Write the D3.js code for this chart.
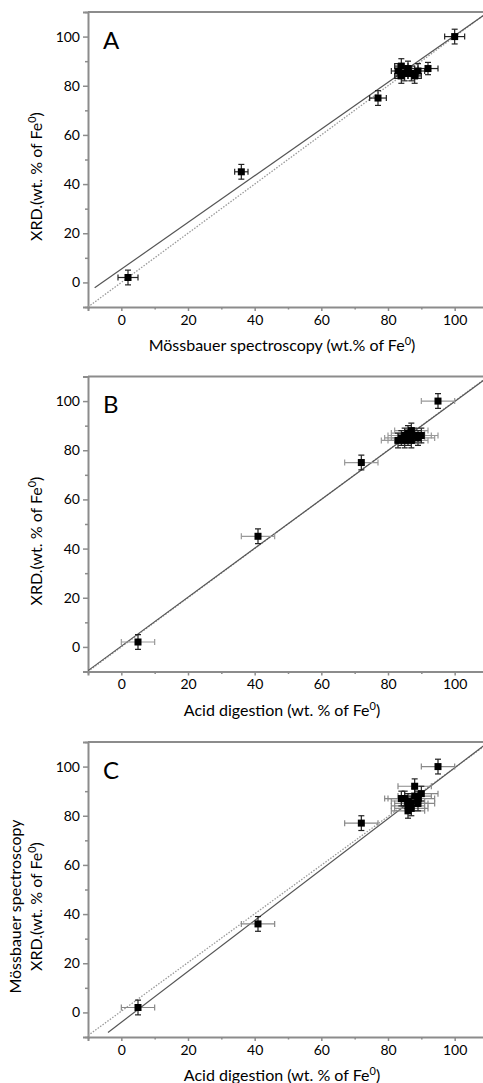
<!DOCTYPE html>
<html>
<head>
<meta charset="utf-8">
<script src="https://cdn.jsdelivr.net/npm/d3@7"></script>
<style>
  html, body { margin: 0; padding: 0; background: #fff; }
  svg { display: block; font-family: Lato, "Open Sans", sans-serif; }
</style>
</head>
<body>
<svg id="chart" width="483" height="1083"></svg>
<script>
// Axis ticks shared by all three panels
const majorTicks = [0, 20, 40, 60, 80, 100];
const minorTicks = [-10, 10, 30, 50, 70, 90, 110];

// Panel A: Mössbauer (x) vs XRD (y)
const aX    = [2, 36, 77, 83, 84, 85, 86, 87, 88, 89, 84, 92, 100];
const aY    = [2, 45, 75, 86, 88, 85, 87, 85, 84, 86, 84, 87, 100];
const aXErr = [3, 2, 2.5, 2, 2, 2, 2, 2, 2, 2, 2, 3, 3];
const aYErr = [3, 3, 3, 3, 3, 3, 3, 3, 3, 3, 3, 2.5, 3];

// Panel B: acid digestion (x) vs XRD (y)
const bX    = [5, 41, 72, 83, 84, 85, 86, 87, 88, 89, 87, 86, 90, 85, 95];
const bY    = [2, 45, 75, 84, 85, 86, 87, 88, 86, 85, 84, 85, 86, 84, 100];
const bXErr = [5, 5, 5, 5, 5, 5, 5, 5, 5, 5, 5, 5, 5, 5, 5];
const bYErr = [3, 3, 3, 3, 3, 3, 3, 3, 3, 3, 3, 3, 3, 3, 3];

// Panel C: acid digestion (x) vs Mössbauer (y)
const cX    = [5, 41, 72, 85, 86, 87, 86, 86, 88, 88, 89, 90, 87, 84, 89, 95];
const cY    = [2, 36, 77, 87, 86, 85, 84, 82, 92, 88, 87, 89, 83, 87, 85, 100];
const cXErr = [5, 5, 5, 5, 5, 5, 5, 5, 5, 5, 5, 5, 5, 5, 5, 5];
const cYErr = [3, 3, 3, 3, 3, 3, 3, 3, 3, 3, 3, 3, 3, 3, 3, 3];

// Linear fits (solid) and reference lines (dotted): intercept, slope, start x
const fitIntercept = [5.4, 0.3, -4];
const fitSlope     = [0.95, 0.995, 1.035];
const fitStart     = [-8, -10, -4];
const refIntercept = [0, 0, 0.5];
const refSlope     = [1, 1, 0.99];

const panelLetters = ["A", "B", "C"];
const xTitles = ["Mössbauer spectroscopy (wt.% of Fe", "Acid digestion (wt. % of Fe", "Acid digestion (wt. % of Fe"];
const yTitles = [["XRD.(wt. % of Fe"], ["XRD.(wt. % of Fe"], ["Mössbauer spectroscopy", "XRD.(wt. % of Fe"]];

const panels = [
  { x: aX, y: aY, xe: aXErr, ye: aYErr, xeColor: "#222" },
  { x: bX, y: bY, xe: bXErr, ye: bYErr, xeColor: "#999" },
  { x: cX, y: cY, xe: cXErr, ye: cYErr, xeColor: "#888" }
];

const svg = d3.select("#chart");
const left = 88, right = 488, plotH = 295;
const tops = [12, 376.5, 742];
const frameColor = "#8c8c8c";

const x = d3.scaleLinear().domain([-10, 110]).range([left, right]);

panels.forEach((p, i) => {
  const top = tops[i], bottom = top + plotH;
  const y = d3.scaleLinear().domain([-10, 110]).range([bottom, top]);
  const g = svg.append("g");

  const clipId = "clip" + i;
  g.append("clipPath").attr("id", clipId)
    .append("rect").attr("x", left).attr("y", top).attr("width", right - left).attr("height", plotH);

  // frame: top and right
  g.append("line").attr("x1", left).attr("x2", right).attr("y1", top).attr("y2", top)
    .attr("stroke", frameColor).attr("stroke-width", 2);
  g.append("line").attr("x1", right).attr("x2", right).attr("y1", top).attr("y2", bottom)
    .attr("stroke", frameColor).attr("stroke-width", 2);

  // bottom axis
  const xAxis = g.append("g").attr("transform", `translate(0,${bottom})`)
    .call(d3.axisBottom(x).tickValues(majorTicks).tickSize(4).tickPadding(4));
  xAxis.append("g").call(d3.axisBottom(x).tickValues(minorTicks).tickSize(2.5).tickFormat(""))
    .select(".domain").remove();
  xAxis.selectAll(".domain").attr("stroke", frameColor).attr("stroke-width", 2);
  xAxis.selectAll(".tick line").attr("stroke", frameColor).attr("stroke-width", 1.5);
  xAxis.selectAll("text").attr("font-size", 14).attr("fill", "#000")
    .attr("font-family", "Lato, sans-serif");

  // left axis
  const yAxis = g.append("g").attr("transform", `translate(${left},0)`)
    .call(d3.axisLeft(y).tickValues(majorTicks).tickSize(5).tickPadding(3));
  yAxis.append("g").call(d3.axisLeft(y).tickValues(minorTicks).tickSize(3).tickFormat(""))
    .select(".domain").remove();
  yAxis.selectAll(".domain").attr("stroke", frameColor).attr("stroke-width", 2);
  yAxis.selectAll(".tick line").attr("stroke", frameColor).attr("stroke-width", 1.5);
  yAxis.selectAll("text").attr("font-size", 14).attr("fill", "#000")
    .attr("font-family", "Lato, sans-serif");

  const plot = g.append("g").attr("clip-path", `url(#${clipId})`);

  // reference line (dotted)
  const ref = x0 => refIntercept[i] + refSlope[i] * x0;
  plot.append("line")
    .attr("x1", x(-10)).attr("y1", y(ref(-10)))
    .attr("x2", x(110)).attr("y2", y(ref(110)))
    .attr("stroke", "#9a9a9a").attr("stroke-width", 1.3).attr("stroke-dasharray", "1.5,1.5");

  // fitted line (solid)
  const fit = x0 => fitIntercept[i] + fitSlope[i] * x0;
  plot.append("line")
    .attr("x1", x(fitStart[i])).attr("y1", y(fit(fitStart[i])))
    .attr("x2", x(110)).attr("y2", y(fit(110)))
    .attr("stroke", "#555").attr("stroke-width", 1.2);

  const idx = d3.range(p.x.length);
  const cap = 3;

  // horizontal error bars
  const xe = plot.append("g").attr("stroke", p.xeColor).attr("stroke-width", 1.2);
  idx.forEach(k => {
    const cy = y(p.y[k]);
    const x1 = x(p.x[k] - p.xe[k]), x2 = x(p.x[k] + p.xe[k]);
    xe.append("line").attr("x1", x1).attr("x2", x2).attr("y1", cy).attr("y2", cy);
    xe.append("line").attr("x1", x1).attr("x2", x1).attr("y1", cy - cap).attr("y2", cy + cap);
    xe.append("line").attr("x1", x2).attr("x2", x2).attr("y1", cy - cap).attr("y2", cy + cap);
  });

  // vertical error bars
  const ye = plot.append("g").attr("stroke", "#222").attr("stroke-width", 1.2);
  idx.forEach(k => {
    const cx = x(p.x[k]);
    const y1 = y(p.y[k] - p.ye[k]), y2 = y(p.y[k] + p.ye[k]);
    ye.append("line").attr("x1", cx).attr("x2", cx).attr("y1", y1).attr("y2", y2);
    ye.append("line").attr("x1", cx - cap).attr("x2", cx + cap).attr("y1", y1).attr("y2", y1);
    ye.append("line").attr("x1", cx - cap).attr("x2", cx + cap).attr("y1", y2).attr("y2", y2);
  });

  // square markers
  const s = 7;
  plot.append("g").selectAll("rect").data(idx).join("rect")
    .attr("x", k => x(p.x[k]) - s / 2).attr("y", k => y(p.y[k]) - s / 2)
    .attr("width", s).attr("height", s).attr("fill", "#000");

  // panel letter
  g.append("text").attr("x", left + 15).attr("y", top + 36.5)
    .attr("font-size", 24).attr("fill", "#000").text(panelLetters[i]);

  // x-axis title
  const xt = g.append("text").attr("x", 282).attr("y", bottom + 44)
    .attr("text-anchor", "middle").attr("font-size", 16).attr("fill", "#000");
  xt.append("tspan").text(xTitles[i]);
  xt.append("tspan").attr("font-size", 11).attr("dy", -6).text("0");
  xt.append("tspan").attr("dy", 6).text(")");

  // y-axis title(s)
  const lines = yTitles[i];
  const yc = top + 164.5;
  lines.forEach((t, j) => {
    const cx = lines.length === 1 ? 42 : (j === 0 ? 21 : 42);
    const yt = g.append("text")
      .attr("transform", `translate(${cx},${yc}) rotate(-90)`)
      .attr("text-anchor", "middle").attr("font-size", 16).attr("fill", "#000");
    if (t.startsWith("XRD")) {
      yt.append("tspan").text(t);
      yt.append("tspan").attr("font-size", 11).attr("dy", -6).text("0");
      yt.append("tspan").attr("dy", 6).text(")");
    } else {
      yt.text(t);
    }
  });
});
</script>
</body>
</html>
